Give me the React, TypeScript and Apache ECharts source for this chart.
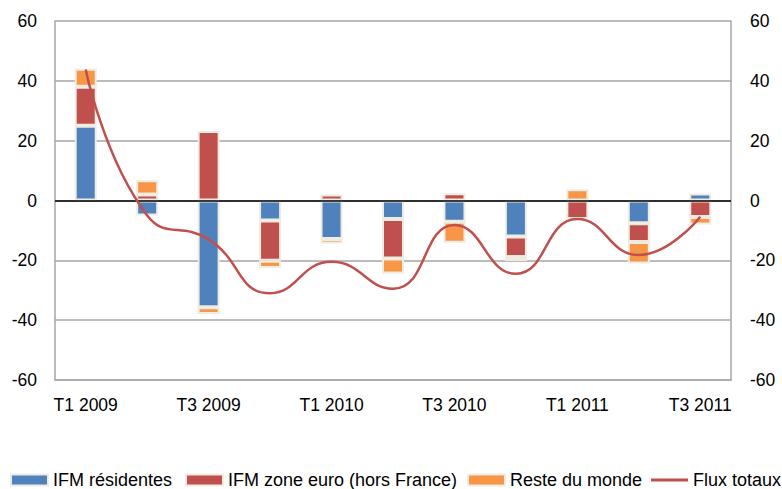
import React, { useEffect, useRef } from "react";
import * as echarts from "echarts";

const categories = [
  "T1 2009", "T2 2009", "T3 2009", "T4 2009",
  "T1 2010", "T2 2010", "T3 2010", "T4 2010",
  "T1 2011", "T2 2011", "T3 2011",
];
const ifmResidentes = [25, -5, -35.7, -6.7, -12.9, -6.2, -7.1, -12, 0, -7.6, 2.3];
const ifmZoneEuro = [13, 2, 23.2, -13.4, 2, -13.2, 2.4, -6.9, -6.2, -6.3, -5.5];
const resteDuMonde = [6, 4.8, -2.2, -2.5, -1.5, -5, -7, -1.3, 3.8, -7.2, -2.5];
const fluxTotaux = [43.8, -5, -13, -31, -20.5, -29.5, -8.2, -24.5, -6.2, -18.2, -5.4];

const yTicks = { min: -60, max: 60, interval: 20 };

const seriesNames = ["IFM résidentes", "IFM zone euro (hors France)", "Reste du monde", "Flux totaux"];

const FONT = "Liberation Sans, Arial, sans-serif";

export default function App() {
  const ref = useRef<HTMLDivElement>(null);
  useEffect(() => {
    if (!ref.current) return;
    const chart = echarts.init(ref.current, undefined, { renderer: "svg" });
    const barBase = {
      type: "bar" as const,
      stack: "total",
      barWidth: 22,
      itemStyle: { borderColor: "#eeebe0", borderWidth: 2 },
    };
    const yAxisBase = {
      type: "value" as const,
      min: yTicks.min,
      max: yTicks.max,
      interval: yTicks.interval,
      axisLine: { show: true, lineStyle: { color: "#a6a6a6", width: 1.5 } },
      axisTick: { show: false },
      axisLabel: { color: "#000", fontSize: 17.5, fontFamily: FONT, margin: 18 },
    };
    const legendLefts = [10, 185, 467, 651];
    const legendIcons = ["rect", "rect", "rect", "path://M0,0H40V3H0Z"];
    chart.setOption({
      animation: false,
      textStyle: { fontFamily: FONT },
      grid: { left: 55, right: 51, top: 21, bottom: 109, containLabel: false },
      legend: seriesNames.map((name, i) => ({
        left: legendLefts[i],
        top: 471,
        padding: 0,
        itemWidth: 37,
        itemHeight: 11,
        textStyle: { color: "#000", fontSize: 18, fontFamily: FONT },
        data: [{ name, icon: legendIcons[i] }],
      })),
      xAxis: {
        type: "category",
        data: categories,
        axisLine: { show: true, onZero: false, lineStyle: { color: "#a6a6a6", width: 1.5 } },
        axisTick: { show: false },
        axisLabel: { interval: 1, color: "#000", fontSize: 17.5, fontFamily: FONT, margin: 16 },
      },
      yAxis: [
        {
          ...yAxisBase,
          position: "left",
          splitLine: { show: true, lineStyle: { color: "#a6a6a6", width: 1.5 } },
        },
        {
          ...yAxisBase,
          position: "right",
          splitLine: { show: false },
          axisLabel: { ...yAxisBase.axisLabel, margin: 19 },
        },
      ],
      series: [
        {
          ...barBase,
          name: seriesNames[0],
          data: ifmResidentes,
          itemStyle: { ...barBase.itemStyle, color: "#4f81bd" },
          markLine: {
            silent: true,
            symbol: "none",
            label: { show: false },
            lineStyle: { color: "#000", width: 1.5, type: "solid" },
            data: [{ yAxis: 0 }],
          },
        },
        {
          ...barBase,
          name: seriesNames[1],
          data: ifmZoneEuro,
          itemStyle: { ...barBase.itemStyle, color: "#c0504d" },
        },
        {
          ...barBase,
          name: seriesNames[2],
          data: resteDuMonde,
          itemStyle: { ...barBase.itemStyle, color: "#f79646" },
        },
        {
          type: "line",
          name: seriesNames[3],
          data: fluxTotaux,
          smooth: 0.5,
          symbol: "none",
          z: 5,
          lineStyle: { color: "#c0504d", width: 2.5 },
          itemStyle: { color: "#c0504d" },
        },
      ],
    });
    return () => chart.dispose();
  }, []);
  return <div ref={ref} style={{ width: 782, height: 489, position: "absolute", left: 0, top: 0 }} />;
}
